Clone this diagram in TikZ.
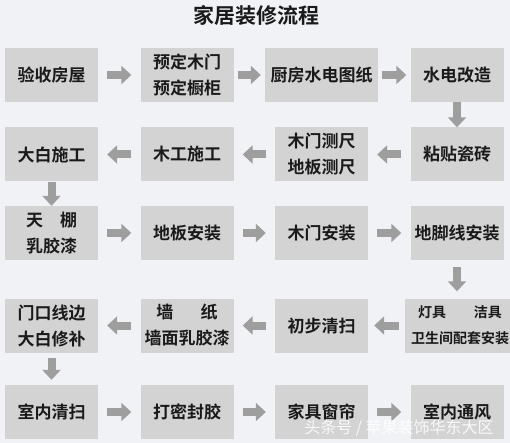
\documentclass[tikz,border=0pt]{standalone}
\usepackage{fontspec}
\setmainfont{Noto Sans CJK SC}[BoldFont={Noto Sans CJK SC Bold}]
\usetikzlibrary{arrows.meta}
\definecolor{bgcol}{RGB}{240,242,245}
\definecolor{boxcol}{RGB}{211,211,211}
\definecolor{arrcol}{RGB}{158,158,158}
\definecolor{txtcol}{RGB}{26,26,26}

\begin{document}
\begin{tikzpicture}[x=1pt,y=-1pt,
  stage/.style={fill=boxcol,minimum width=93pt,minimum height=54pt,inner sep=0pt,
    align=center,text=txtcol,font=\bfseries\fontsize{17}{26}\selectfont},
  flow/.style={draw=arrcol,line width=8pt,shorten <=#1,shorten >=#1,
    -{Triangle[width=18pt,length=10pt]}},
  flow/.default=9pt]

\fill[bgcol] (0,0) rectangle (510,443);
\useasboundingbox (0,0) rectangle (510,443);

\node[font=\bfseries\fontsize{21}{24}\selectfont,text=txtcol] (title) at (256,15) {家居装修流程};

% row 1
\node[stage] (yanshou) at (51.5,75) {验收房屋};
\node[stage] (yuding) at (187,75) {预定木门\\预定橱柜};
\node[stage,minimum width=113pt] (tuzhi) at (321.5,75) {厨房水电图纸};
\node[stage] (shuidian) at (457,75) {水电改造};

% row 2
\node[stage] (cizhuan) at (457,154.5) {粘贴瓷砖};
\node[stage] (celiang) at (321.5,154.5) {木门测尺\\地板测尺};
\node[stage] (mugong) at (187,154.5) {木工施工};
\node[stage] (dabai) at (51.5,154.5) {大白施工};

% row 3
\node[stage] (tianpeng) at (51.5,233) {天　棚\\乳胶漆};
\node[stage] (diban) at (187,233) {地板安装};
\node[stage] (mumen) at (321.5,233) {木门安装};
\node[stage] (jiaoxian) at (457,233) {地脚线安装};

% row 4
\node[stage,minimum width=110pt,font=\bfseries\fontsize{14}{26}\selectfont] (dengju) at (460,325.5) {灯具\hspace{2em}洁具\\卫生间配套安装};
\node[stage] (qingsao) at (321.5,325.5) {初步清扫};
\node[stage] (qiangzhi) at (187,325.5) {墙\hspace{1.6em}纸\\墙面乳胶漆};
\node[stage] (xiubu) at (51.5,325.5) {门口线边\\大白修补};

% row 5
\node[stage] (shinei) at (51.5,412) {室内清扫};
\node[stage] (mifeng) at (187,412) {打密封胶};
\node[stage] (chuanglian) at (321.5,412) {家具窗帘};
\node[stage] (tongfeng) at (457,412) {室内通风};

% arrows
\draw[flow] (yanshou) -- (yuding);
\draw[flow=4pt] (yuding) -- (tuzhi);
\draw[flow=4pt] (tuzhi) -- (shuidian);
\draw[flow=0pt] (shuidian) -- (cizhuan);
\draw[flow] (cizhuan) -- (celiang);
\draw[flow] (celiang) -- (mugong);
\draw[flow] (mugong) -- (dabai);
\draw[flow=0pt] (dabai) -- (tianpeng);
\draw[flow] (tianpeng) -- (diban);
\draw[flow] (diban) -- (mumen);
\draw[flow] (mumen) -- (jiaoxian);
\draw[flow=7pt] (jiaoxian.south) -- (jiaoxian.south |- dengju.north);
\draw[flow=6pt] (dengju) -- (qingsao);
\draw[flow] (qingsao) -- (qiangzhi);
\draw[flow] (qiangzhi) -- (xiubu);
\draw[flow=5pt] (xiubu) -- (shinei);
\draw[flow] (shinei) -- (mifeng);
\draw[flow] (mifeng) -- (chuanglian);
\draw[flow] (chuanglian) -- (tongfeng);

\node[text=white,opacity=0.85,font=\fontsize{16}{18}\selectfont] (mark) at (399,428) {头条号 / 苹果装饰华东大区};

\end{tikzpicture}
\end{document}
